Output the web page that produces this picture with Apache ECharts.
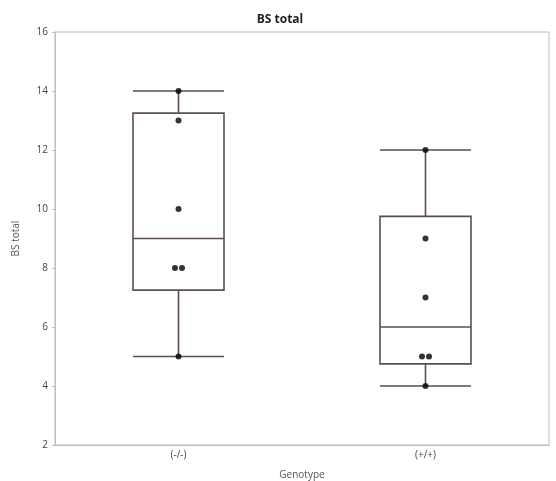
<!DOCTYPE html>
<html>
<head>
<meta charset="utf-8">
<script src="https://cdn.jsdelivr.net/npm/echarts@6/dist/echarts.min.js"></script>
<style>
html, body { margin: 0; padding: 0; background: #fff; }
#main { width: 556px; height: 481px; }
</style>
</head>
<body>
<div id="main"></div>
<script>
var genotypes = ['(-/-)', '(+/+)'];
// min, Q1, median, Q3, max
var boxKO = [5, 7.25, 9, 13.25, 14];
var boxWT = [4, 4.75, 6, 9.75, 12];
// individual observations
var pointsKO = [14, 13, 10, 8, 8, 5];
var pointsWT = [12, 9, 7, 5, 5, 4];
var yTicks = [2, 4, 6, 8, 10, 12, 14, 16];

var myChart = echarts.init(document.getElementById('main'));

// spread identical values a little sideways, like the original dot plot
function dots(cat, vals) {
    var out = [];
    vals.forEach(function (v, i) {
        var same = vals.filter(function (w) { return w === v; }).length;
        var k = vals.slice(0, i).filter(function (w) { return w === v; }).length;
        var off = same > 1 ? (k - (same - 1) / 2) * 7 : 0;
        out.push({ value: [cat, v], symbolOffset: [off, 0] });
    });
    return out;
}

var axisCol = '#c4b8b8';
var option = {
    animation: false,
    title: {
        text: 'BS total',
        left: 275,
        top: 9,
        textAlign: 'center',
        textStyle: { fontSize: 12, fontWeight: 'bold', color: '#222', fontFamily: 'Open Sans' }
    },
    grid: {
        left: 55, right: 7, top: 32, bottom: 36,
        outerBoundsMode: 'none',
        containLabel: false,
        show: true, borderColor: axisCol, borderWidth: 1
    },
    xAxis: {
        type: 'category',
        data: genotypes,
        name: 'Genotype',
        nameLocation: 'middle',
        nameGap: 25,
        nameTextStyle: { fontSize: 10, color: '#555', fontFamily: 'Open Sans' },
        axisLine: { lineStyle: { color: axisCol } },
        axisTick: { show: false },
        axisLabel: { fontSize: 10, color: '#444', margin: 5, fontFamily: 'Open Sans' },
        splitLine: { show: false }
    },
    yAxis: {
        type: 'value',
        min: yTicks[0], max: yTicks[yTicks.length - 1], interval: 2,
        name: 'BS total',
        nameLocation: 'middle',
        nameGap: 34,
        nameTextStyle: { fontSize: 10, color: '#555', fontFamily: 'Open Sans' },
        axisLine: { show: true, lineStyle: { color: axisCol } },
        axisTick: { show: true, length: 3, lineStyle: { color: axisCol } },
        axisLabel: { fontSize: 10, color: '#444', margin: 7, fontFamily: 'Open Sans' },
        splitLine: { show: false }
    },
    series: [
        {
            type: 'boxplot',
            data: [boxKO, boxWT],
            boxWidth: [91, 91],
            itemStyle: { color: 'transparent', borderColor: '#5e4e4e', borderWidth: 1.6 }
        },
        {
            type: 'scatter',
            data: dots(genotypes[0], pointsKO).concat(dots(genotypes[1], pointsWT)),
            symbolSize: 6,
            itemStyle: { color: '#000' },
            z: 5
        }
    ]
};
myChart.setOption(option);
</script>
</body>
</html>
